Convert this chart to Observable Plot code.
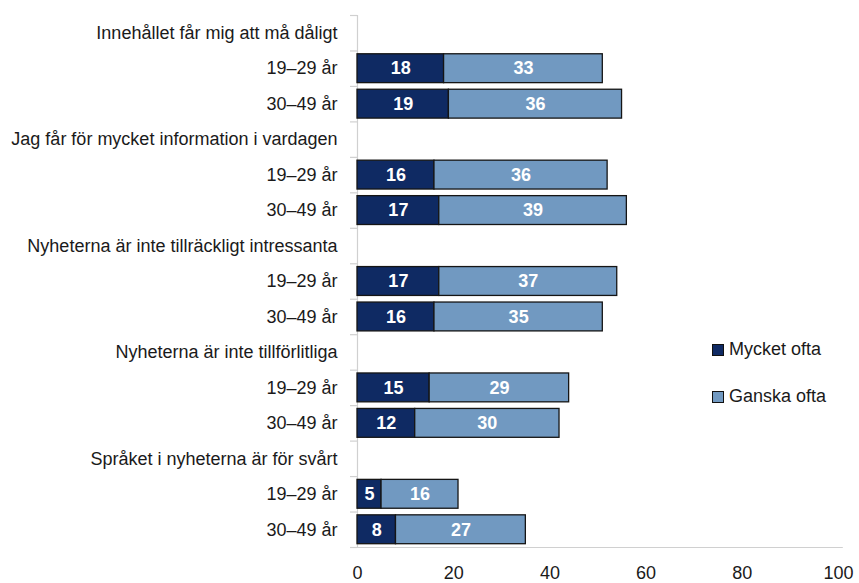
<!DOCTYPE html>
<html>
<head>
<meta charset="utf-8">
<script src="https://cdn.jsdelivr.net/npm/d3@7"></script>
<script src="https://cdn.jsdelivr.net/npm/@observablehq/plot@0.6"></script>
<style>
  html, body { margin: 0; padding: 0; background: #fff; }
  #wrap { position: relative; width: 859px; height: 583px; font-family: "Liberation Sans", Arial, sans-serif; }
  .leg { position: absolute; left: 712px; font-size: 18px; color: #1a1a1a; display: flex; align-items: center; }
  .sw { width: 10px; height: 10px; border: 1px solid #111; margin-right: 5px; }
</style>
</head>
<body>
<div id="wrap"></div>
<script>
const questions = [
  "Innehållet får mig att må dåligt",
  "Jag får för mycket information i vardagen",
  "Nyheterna är inte tillräckligt intressanta",
  "Nyheterna är inte tillförlitliga",
  "Språket i nyheterna är för svårt"
];
const ages = ["19–29 år", "30–49 år"];
const series = ["Mycket ofta", "Ganska ofta"];
const colors = ["#0f2a63", "#7199c1"];
const mycketOfta = [18, 19, 16, 17, 17, 16, 15, 12, 5, 8];
const ganskaOfta = [33, 36, 36, 39, 37, 35, 29, 30, 16, 27];
const xTicks = [0, 20, 40, 60, 80, 100];

const rows = [];
questions.forEach((q, qi) => {
  rows.push({label: q});
  ages.forEach((a, ai) => rows.push({label: a, m: mycketOfta[qi * 2 + ai], g: ganskaOfta[qi * 2 + ai]}));
});
rows.forEach((r, i) => r.i = i);
const segs = rows.filter(r => r.m != null).flatMap(r => [
  {i: r.i, x1: 0, x2: r.m, v: r.m, s: series[0]},
  {i: r.i, x1: r.m, x2: r.m + r.g, v: r.g, s: series[1]}
]);

const chart = Plot.plot({
  width: 859,
  height: 583,
  marginLeft: 357,
  marginRight: 21,
  marginTop: 15,
  marginBottom: 36,
  style: {fontFamily: "Liberation Sans, Arial, sans-serif", color: "#1a1a1a", background: "#fff"},
  x: {domain: [0, 100]},
  y: {domain: [0, rows.length], reverse: true},
  color: {domain: series, range: colors},
  marks: [
    Plot.ruleX([0], {stroke: "#d0d0d0", strokeWidth: 1.2}),
    Plot.ruleY([rows.length], {stroke: "#d0d0d0", strokeWidth: 1.2, x1: 0, x2: 101}),
    Plot.axisY(d3.range(rows.length + 1), {tickSize: 7, tickFormat: () => "", stroke: "#d0d0d0", strokeWidth: 1.2}),
    Plot.axisY(rows.map(r => r.i + 0.5), {tickSize: 0, tickPadding: 20, fontSize: 18, fill: "#1a1a1a", tickFormat: v => rows[Math.floor(v)].label}),
    Plot.axisX(xTicks, {tickSize: 0, tickPadding: 19, fontSize: 18, fill: "#1a1a1a"}),
    Plot.rectX(segs, {x1: "x1", x2: "x2", y1: d => d.i, y2: d => d.i + 1, insetTop: 3.3, insetBottom: 3.3, fill: "s", stroke: "#151515", strokeWidth: 1.3}),
    Plot.text(segs, {x: d => (d.x1 + d.x2) / 2, y: d => d.i + 0.5, text: "v", fill: "white", fontWeight: "bold", fontSize: 18})
  ]
});
const wrap = document.getElementById("wrap");
wrap.appendChild(chart);
const legTops = [339, 386];
series.forEach((s, k) => {
  const d = document.createElement("div");
  d.className = "leg";
  d.style.top = legTops[k] + "px";
  d.innerHTML = `<span class="sw" style="background:${colors[k]}"></span>${s}`;
  wrap.appendChild(d);
});
</script>
</body>
</html>
